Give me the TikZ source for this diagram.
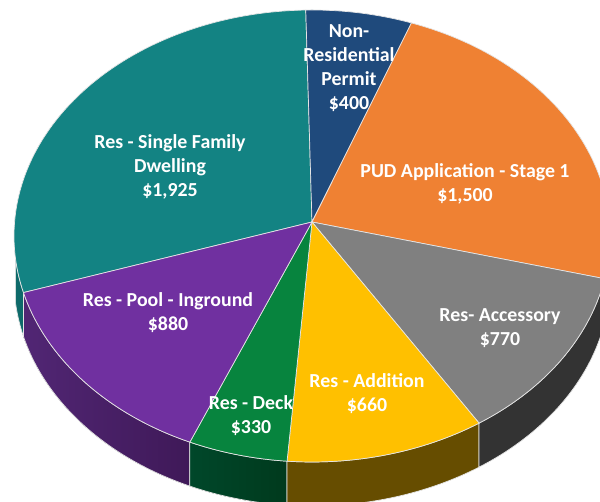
\documentclass[tikz,border=0pt]{standalone}
\usepackage{fontspec}
\setmainfont{Carlito}
\usetikzlibrary{calc}

\definecolor{TealTop}{HTML}{138383}
\definecolor{TealSide}{HTML}{0E6A6A}
\definecolor{NavyTop}{HTML}{1F4A7C}
\definecolor{OrangeTop}{HTML}{EF8133}
\definecolor{OrangeSide}{HTML}{7A3F12}
\definecolor{GrayTop}{HTML}{808080}
\definecolor{GraySide}{HTML}{333333}
\definecolor{YellowTop}{HTML}{FFC000}
\definecolor{YellowSide}{HTML}{664D00}
\definecolor{GreenTop}{HTML}{07843E}
\definecolor{GreenSide}{HTML}{003A1D}
\definecolor{GreenSideL}{HTML}{00472A}
\definecolor{PurpleTop}{HTML}{7030A0}
\definecolor{PurpleSide}{HTML}{3F1958}
\definecolor{PurpleSideL}{HTML}{512674}

\begin{document}
\begin{tikzpicture}[x=0.02cm, y=0.02cm]

%local definitions
\tikzstyle{Slice} = [draw=white!80!gray, line width=0.4pt]
\tikzstyle{rim} = [x radius=298, y radius=226]
\tikzstyle{Label} = [text=white, align=center, font=\bfseries\fontsize{11.3}{13.7}\selectfont]

\useasboundingbox (0,0) rectangle (600,502);
\clip (0,0) rectangle (600,502);

%centre and slice borders
\coordinate (E) at (312,266);
\coordinate (O) at (312,280);
\coordinate (tn) at ([shift={(E)}]91.2:298 and 226);
\coordinate (no) at ([shift={(E)}]70.5:298 and 226);
\coordinate (og) at ([shift={(E)}]-10.9:298 and 226);
\coordinate (gy) at ([shift={(E)}]-55.9:298 and 226);
\coordinate (yg) at ([shift={(E)}]-94.8:298 and 226);
\coordinate (gp) at ([shift={(E)}]-114.2:298 and 226);
\coordinate (pt) at ([shift={(E)}]194.5:298 and 226);
\coordinate (lft) at ([shift={(E)}]186:298 and 226);

%sides
\filldraw [Slice, fill=TealSide] (lft) arc[rim, start angle=186, end angle=194.5] -- ++(0,-44) arc[rim, start angle=194.5, end angle=186] -- cycle;
\filldraw [Slice, left color=PurpleSideL, right color=PurpleSide] (pt) arc[rim, start angle=194.5, end angle=245.8] -- ++(0,-44) arc[rim, start angle=245.8, end angle=194.5] -- cycle;
\filldraw [Slice, left color=GreenSideL, right color=GreenSide] (gp) arc[rim, start angle=245.8, end angle=265.2] -- ++(0,-44) arc[rim, start angle=265.2, end angle=245.8] -- cycle;
\filldraw [Slice, fill=YellowSide] (yg) arc[rim, start angle=265.2, end angle=304.1] -- ++(0,-44) arc[rim, start angle=304.1, end angle=265.2] -- cycle;
\filldraw [Slice, fill=GraySide] (gy) arc[rim, start angle=304.1, end angle=349.1] -- ++(0,-44) arc[rim, start angle=349.1, end angle=304.1] -- cycle;
\filldraw [Slice, fill=OrangeSide] (og) arc[rim, start angle=349.1, end angle=360] -- ++(0,-44) arc[rim, start angle=360, end angle=349.1] -- cycle;

%top of the pie
\filldraw [Slice, fill=TealTop] (O) -- (pt) arc[rim, start angle=194.5, end angle=91.2] -- cycle;
\filldraw [Slice, fill=NavyTop] (O) -- (tn) arc[rim, start angle=91.2, end angle=70.5] -- cycle;
\filldraw [Slice, fill=OrangeTop] (O) -- (no) arc[rim, start angle=70.5, end angle=-10.9] -- cycle;
\filldraw [Slice, fill=GrayTop] (O) -- (og) arc[rim, start angle=-10.9, end angle=-55.9] -- cycle;
\filldraw [Slice, fill=YellowTop] (O) -- (gy) arc[rim, start angle=-55.9, end angle=-94.8] -- cycle;
\filldraw [Slice, fill=GreenTop] (O) -- (yg) arc[rim, start angle=-94.8, end angle=-114.2] -- cycle;
\filldraw [Slice, fill=PurpleTop] (O) -- (gp) arc[rim, start angle=-114.2, end angle=-165.5] -- cycle;

%labels
\node [Label] (NonRes) at (349,434) {Non-\\Residential\\Permit\\\$400};
\node [Label] (Single) at (170,335) {Res - Single Family\\Dwelling\\\$1,925};
\node [Label] (PUD) at (465,318) {PUD Application - Stage 1\\\$1,500};
\node [Label] (Accessory) at (500,174) {Res- Accessory\\\$770};
\node [Label] (Addition) at (367,108) {Res - Addition\\\$660};
\node [Label] (Deck) at (251,86) {Res - Deck\\\$330};
\node [Label] (Pool) at (168,189) {Res - Pool - Inground\\\$880};

\end{tikzpicture}
\end{document}
